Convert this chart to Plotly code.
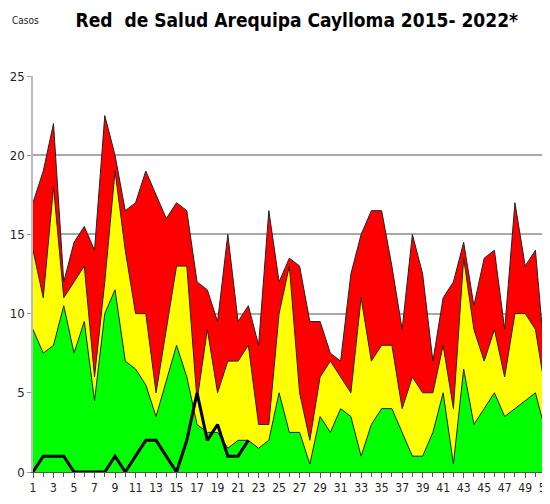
import plotly.graph_objects as go

# Semanas epidemiologicas
semanas = list(range(1, 53))

# Canal endemico: limites superiores de cada zona
alarma = [17, 19, 22, 12, 14.5, 15.5, 14, 22.5, 20, 16.5, 17, 19, 17.5, 16, 17, 16.5,
          12, 11.5, 9.5, 15, 9.5, 10.5, 8, 16.5, 12, 13.5, 13, 9.5, 9.5, 7.5, 7, 12.5,
          15, 16.5, 16.5, 13, 9, 15, 12.5, 7, 11, 12, 14.5, 10.5, 13.5, 14, 9, 17,
          13, 14, 6.5, 13.5]
seguridad = [14, 11, 18, 11, 12, 13, 6, 12, 19, 14, 10, 10, 5, 9, 13, 13,
             4.5, 9, 5, 7, 7, 8, 3, 3, 10, 13, 5, 2, 6, 7, 6, 5,
             11, 7, 8, 8, 4, 6, 5, 5, 8, 4, 13.5, 9, 7, 9, 6, 10,
             10, 9, 5, 7]
exito = [9, 7.5, 8, 10.5, 7.5, 9.5, 4.5, 10, 11.5, 7, 6.5, 5.5, 3.5, 5.7, 8, 6,
         3, 2.5, 2.5, 1.5, 2, 2, 1.5, 2, 5, 2.5, 2.5, 0.5, 3.5, 2.5, 4, 3.5,
         1, 3, 4, 4, 2.5, 1, 1, 2.5, 5, 0.5, 6.5, 3, 4, 5, 3.5, 4,
         4.5, 5, 2.5, 4.5]

# Casos 2022*
semanas_2022 = list(range(1, 23))
casos_2022 = [0, 1, 1, 1, 0, 0, 0, 0, 1, 0, 1, 2, 2, 1, 0, 2, 5, 2, 3, 1, 1, 2]

fuente = "DejaVu Sans Condensed, Liberation Sans Narrow, Arial Narrow, Liberation Sans"

fig = go.Figure()

for valores, color, nombre in [(alarma, "#FF0000", "Alarma"),
                               (seguridad, "#FFFF00", "Seguridad"),
                               (exito, "#00FF00", "Exito")]:
    fig.add_trace(go.Scatter(x=semanas, y=valores, name=nombre, mode="lines",
                             fill="tozeroy", fillcolor=color,
                             line=dict(color="#222222", width=1)))

fig.add_trace(go.Scatter(x=semanas_2022, y=casos_2022, name="2022", mode="lines",
                         line=dict(color="black", width=3)))

# la pagina tiene 8 px de margen en el body
fig.update_layout(
    width=550, height=504,
    margin=dict(l=25, r=8, t=68, b=39.5),
    plot_bgcolor="white", paper_bgcolor="white",
    showlegend=False,
    font=dict(family=fuente, color="#222222", size=13),
    title=dict(text="<b>Red  de Salud Arequipa Caylloma 2015- 2022*</b>",
               x=0.525, xanchor="center", y=0.976, yanchor="middle",
               font=dict(family=fuente, size=19, color="black")),
)
fig.add_annotation(text="Casos", xref="paper", yref="paper", x=-0.045, y=1.141,
                   xanchor="left", yanchor="middle", showarrow=False,
                   font=dict(family=fuente, size=10, color="#222222"))

fig.update_xaxes(range=[1, 51.42], tick0=1, dtick=2, ticks="outside", ticklen=5,
                 tickcolor="#555555", showgrid=False, showline=True,
                 linecolor="#555555", linewidth=1, zeroline=False, automargin=False,
                 minor=dict(dtick=1, tick0=1, ticks="outside", ticklen=4,
                            tickcolor="#555555"),
                 tickfont=dict(size=12))
fig.update_yaxes(range=[0, 25], dtick=5, ticks="outside", ticklen=4,
                 tickcolor="#999999", showgrid=True, gridcolor="#A8A8A8",
                 gridwidth=1.5, showline=True, linecolor="#BBBBBB",
                 linewidth=1.5, zeroline=False, automargin=False,
                 tickfont=dict(size=13))

fig.write_html("out.html")
